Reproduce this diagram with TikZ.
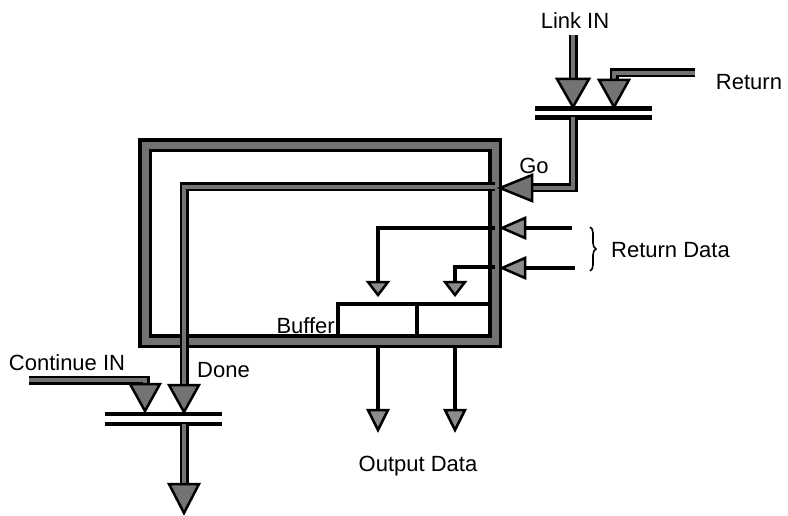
\documentclass[tikz,border=0pt]{standalone}
\usepackage{fontspec}
\setmainfont{Liberation Sans}
\usetikzlibrary{decorations.pathreplacing}
\begin{document}
\begin{tikzpicture}[x=1pt,y=-1pt,
  band/.style={draw=black, line width=3.5pt, double=black!55, double distance=7pt, line join=miter},
  wire/.style={draw=black, line width=2.5pt, double=black!55, double distance=4pt, line join=miter},
  thinwire/.style={draw=black, line width=3.5pt, line join=miter},
  tri/.style={draw=black, line width=2.5pt, fill=black!55, line join=miter},
  smalltri/.style={draw=black, line width=2.5pt, fill=black!45, line join=miter},
  gatebar/.style={draw=black, line width=4.5pt},
  lbl/.style={font=\fontsize{22}{26}\selectfont, inner sep=0pt}]
\useasboundingbox (0,0) rectangle (788,516);

% ---- coordinates
\coordinate (linkTop) at (573,35);
\coordinate (linkIn) at (573,80);
\coordinate (linkTip) at (573,107);
\coordinate (retStart) at (695,73);
\coordinate (retCorner) at (614,73);
\coordinate (retIn) at (614,82);
\coordinate (retTip) at (614,107);
\coordinate (g1aL) at (535,108.5);
\coordinate (g1aR) at (652,108.5);
\coordinate (g1bL) at (535,117.5);
\coordinate (g1bR) at (652,117.5);
\coordinate (goStart) at (573,117.5);
\coordinate (goCorner) at (573,188);
\coordinate (goEnd) at (528,188);
\coordinate (goTip) at (500,188);
\coordinate (frameNW) at (145,145.5);
\coordinate (frameSE) at (495,341);
\coordinate (innerStart) at (495,187);
\coordinate (innerCorner) at (184,187);
\coordinate (doneEnd) at (184,390);
\coordinate (doneTip) at (184,412);
\coordinate (contStart) at (29,380);
\coordinate (contCorner) at (145,380);
\coordinate (contEnd) at (145,390);
\coordinate (contTip) at (145,411);
\coordinate (g2aL) at (105,414);
\coordinate (g2aR) at (222,414);
\coordinate (g2bL) at (105,424);
\coordinate (g2bR) at (222,424);
\coordinate (outStart) at (184,424);
\coordinate (outEnd) at (184,490);
\coordinate (outTip) at (184,513);
\coordinate (rd1Start) at (572,228);
\coordinate (rd1End) at (520,228);
\coordinate (rd1Tip) at (502,228);
\coordinate (rd2Start) at (575,268);
\coordinate (rd2End) at (520,268);
\coordinate (rd2Tip) at (502,268);
\coordinate (in1Start) at (495,228);
\coordinate (in1Corner) at (378,228);
\coordinate (in1End) at (378,285);
\coordinate (in1Tip) at (378,295);
\coordinate (in2Start) at (495,267);
\coordinate (in2Corner) at (455,267);
\coordinate (in2End) at (455,285);
\coordinate (in2Tip) at (455,295);
\coordinate (bufBL) at (338,336);
\coordinate (bufTL) at (338,304);
\coordinate (bufTR) at (488,304);
\coordinate (bufMT) at (417,304);
\coordinate (bufMB) at (417,336);
\coordinate (od1Start) at (378,348);
\coordinate (od1End) at (378,415);
\coordinate (od1Tip) at (378,430);
\coordinate (od2Start) at (455,348);
\coordinate (od2End) at (455,415);
\coordinate (od2Tip) at (455,430);
\coordinate (braceTop) at (590,227);
\coordinate (braceBot) at (590,271);

% ---- frame and inner path
\draw[band] (frameNW) rectangle (frameSE);
\draw[wire] (innerStart) -- (innerCorner) -- (doneEnd);

% ---- link gate
\draw[wire] (linkTop) -- (linkIn);
\draw[wire] (retStart) -- (retCorner) -- (retIn);
\draw[gatebar] (g1aL) -- (g1aR);
\draw[gatebar] (g1bL) -- (g1bR);
\draw[wire] (goStart) -- (goCorner) -- (goEnd);
\draw[tri] (linkTip) -- ++(-16,-28) -- ++(32,0) -- cycle;
\draw[tri] (retTip) -- ++(-15,-27) -- ++(30,0) -- cycle;
\draw[tri] (goTip) -- ++(32,-13) -- ++(0,26) -- cycle;

% ---- continue gate
\draw[wire] (contStart) -- (contCorner) -- (contEnd);
\draw[gatebar] (g2aL) -- (g2aR);
\draw[gatebar] (g2bL) -- (g2bR);
\draw[wire] (outStart) -- (outEnd);
\draw[tri] (doneTip) -- ++(-15,-27) -- ++(30,0) -- cycle;
\draw[tri] (contTip) -- ++(-15,-27) -- ++(30,0) -- cycle;
\draw[tri] (outTip) -- ++(-15,-29) -- ++(30,0) -- cycle;

% ---- return data
\draw[thinwire] (rd1Start) -- (rd1End);
\draw[thinwire] (rd2Start) -- (rd2End);
\draw[smalltri] (rd1Tip) -- ++(23,-10) -- ++(0,20) -- cycle;
\draw[smalltri] (rd2Tip) -- ++(23,-10) -- ++(0,20) -- cycle;
\draw[thinwire] (in1Start) -- (in1Corner) -- (in1End);
\draw[thinwire] (in2Start) -- (in2Corner) -- (in2End);
\draw[smalltri] (in1Tip) -- ++(-10,-13) -- ++(20,0) -- cycle;
\draw[smalltri] (in2Tip) -- ++(-10,-13) -- ++(20,0) -- cycle;

% ---- buffer
\draw[thinwire] (bufBL) -- (bufTL) -- (bufTR);
\draw[thinwire] (bufMT) -- (bufMB);

% ---- output data
\draw[thinwire] (od1Start) -- (od1End);
\draw[thinwire] (od2Start) -- (od2End);
\draw[smalltri] (od1Tip) -- ++(-10,-20) -- ++(20,0) -- cycle;
\draw[smalltri] (od2Tip) -- ++(-10,-20) -- ++(20,0) -- cycle;

% ---- brace
\draw[line width=1.6pt, decorate, decoration={brace, amplitude=6pt}] (braceTop) -- (braceBot);

% ---- labels
\node[lbl] (tLink) at (575,21) {Link IN};
\node[lbl] (tReturn) at (749,82) {Return};
\node[lbl] (tGo) at (534,166) {Go};
\node[lbl, anchor=west] (tRetData) at (611,250) {Return Data};
\node[lbl, anchor=east] (tBuffer) at (335,326) {Buffer};
\node[lbl] (tCont) at (67,363) {Continue IN};
\node[lbl, anchor=west] (tDone) at (197,370) {Done};
\node[lbl] (tOut) at (418,466) {Output Data};
\end{tikzpicture}
\end{document}
